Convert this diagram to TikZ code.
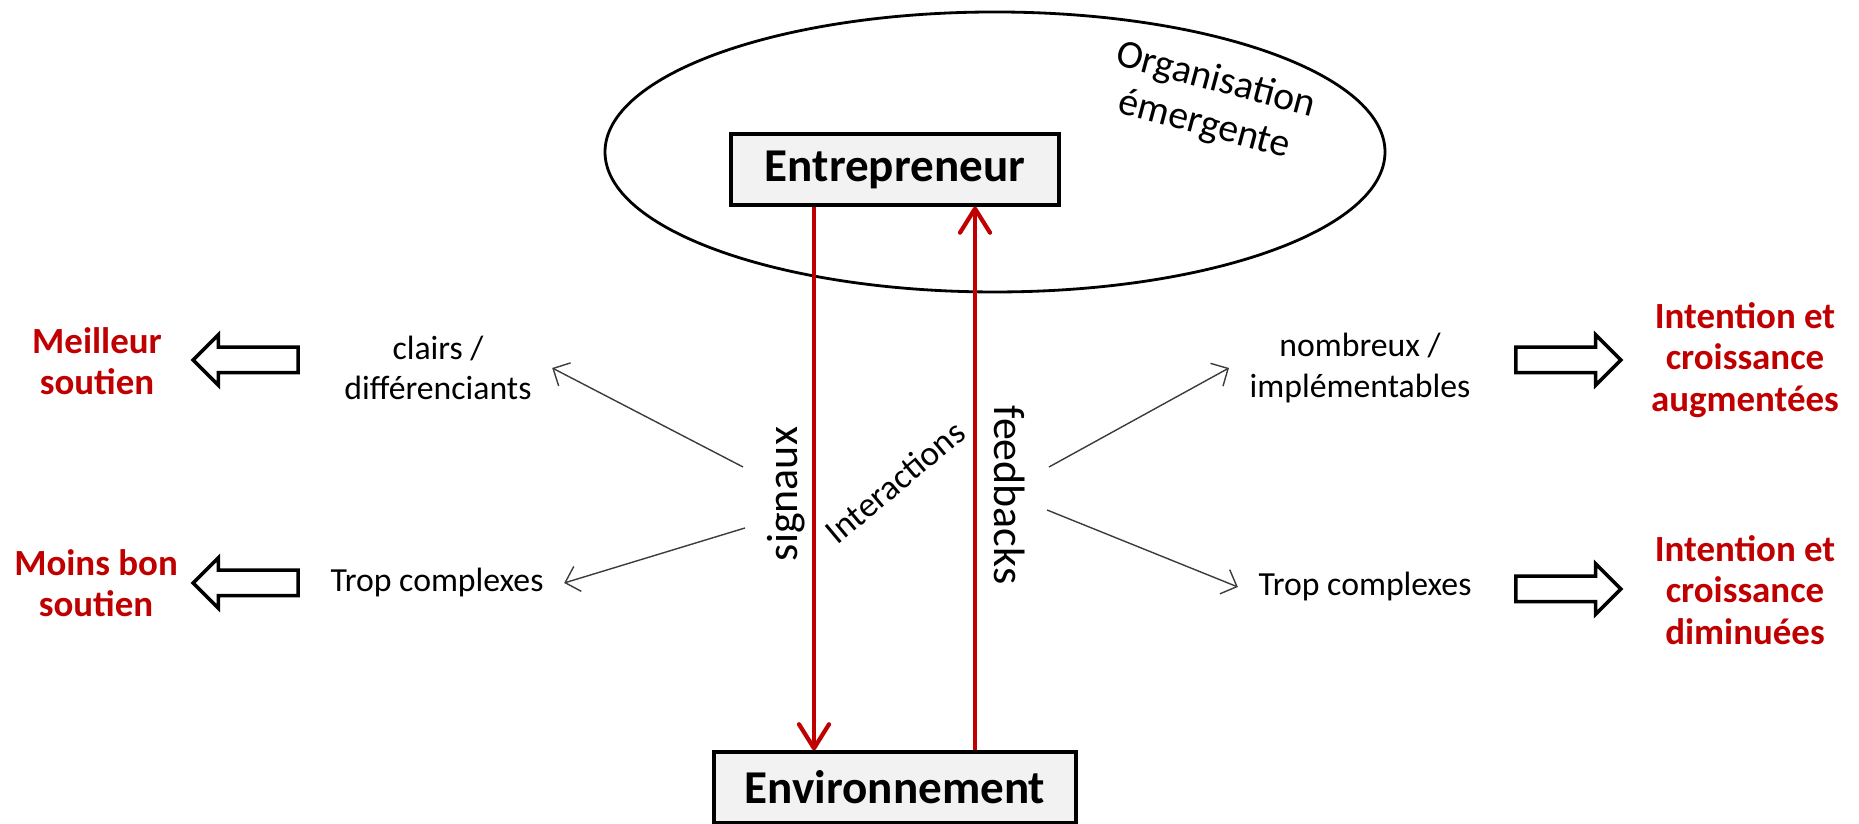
\documentclass[tikz,border=0pt]{standalone}
\usepackage{fontspec}
\setmainfont{Carlito}
\usetikzlibrary{arrows.meta, positioning, shapes.geometric, shapes.arrows, calc}
\definecolor{myred}{RGB}{192,0,0}
\definecolor{boxgray}{RGB}{242,242,242}
\definecolor{raygray}{RGB}{60,60,60}

\begin{document}
\begin{tikzpicture}[
    actor/.style={draw, line width=0.9pt, fill=boxgray, font=\fontsize{13.4}{16}\selectfont\bfseries, minimum width=3.28cm, minimum height=0.71cm, inner sep=0pt},
    txt/.style={font=\fontsize{9.6}{11.4}\selectfont, align=center, inner xsep=2mm},
    outcome/.style={font=\fontsize{10.5}{11.8}\selectfont\bfseries, text=myred, align=center},
    flow/.style={line width=1.2pt, myred, -{Straight Barb[length=2.4mm,width=3mm,round]}},
    ray/.style={line width=0.4pt, raygray, -{Straight Barb[length=1.3mm,width=2.6mm]}},
    bigarrow/.style={single arrow, draw, line width=1pt, minimum height=1.05cm, minimum width=0.49cm, single arrow head extend=0.125cm, inner xsep=0pt, inner ysep=0.11cm}
]
    \useasboundingbox (0,0) rectangle (18.59,8.24);

    % Organisation
    \node[draw, ellipse, line width=0.8pt, minimum width=7.8cm, minimum height=2.8cm] (orga) at (9.95,6.72) {};
    \node[rotate=-15, font=\fontsize{11.3}{13}\selectfont, align=center] (orgalabel) at (12.10,7.21) {Organisation\\émergente};

    % Entrepreneur and environment
    \node[actor] (entre) at (8.95,6.545) {Entrepreneur};
    \node[actor, minimum width=3.62cm] (env) at (8.95,0.365) {Environnement};

    % Interactions: signals down, feedbacks up
    \coordinate (sigX) at (8.14,0);
    \coordinate (fbX) at (9.75,0);
    \draw[flow] (entre.south -| sigX) -- (env.north -| sigX);
    \draw[flow] (env.north -| fbX) -- (entre.south -| fbX);
    \node[rotate=90, font=\fontsize{12.5}{14}\selectfont] (sig) at (7.86,3.30) {signaux};
    \node[rotate=-90, font=\fontsize{12.5}{14}\selectfont] (fb) at (10.10,3.29) {feedbacks};
    \node[rotate=40, font=\fontsize{10}{12}\selectfont] (inter) at (8.95,3.42) {Interactions};

    % Qualities of signals and feedbacks
    \node[txt] (clairs) at (4.38,4.56) {clairs /\\différenciants};
    \node[txt] (tropL) at (4.37,2.41) {Trop complexes};
    \node[txt] (nombreux) at (13.60,4.56) {nombreux /\\implémentables};
    \node[txt] (tropR) at (13.65,2.37) {Trop complexes};

    \coordinate (sigUp) at (7.43,3.57);
    \coordinate (sigDown) at (7.45,2.96);
    \coordinate (fbUp) at (10.49,3.57);
    \coordinate (fbDown) at (10.47,3.14);
    \draw[ray] (sigUp) -- (clairs.east);
    \draw[ray] (sigDown) -- (tropL.east);
    \draw[ray] (fbUp) -- (nombreux.west);
    \draw[ray] (fbDown) -- (tropR.west);

    % Consequences
    \node[bigarrow, shape border rotate=180] (toMeilleur) at (2.52,4.64) {};
    \node[bigarrow, shape border rotate=180] (toMoins) at (2.52,2.41) {};
    \node[bigarrow] (toAug) at (15.62,4.64) {};
    \node[bigarrow] (toDim) at (15.62,2.35) {};

    \node[outcome] (meilleur) at (0.97,4.63) {Meilleur\\soutien};
    \node[outcome] (moins) at (0.96,2.41) {Moins bon\\soutien};
    \node[outcome] (aug) at (17.45,4.64) {Intention et\\croissance\\augmentées};
    \node[outcome] (dim) at (17.45,2.34) {Intention et\\croissance\\diminuées};
\end{tikzpicture}
\end{document}
